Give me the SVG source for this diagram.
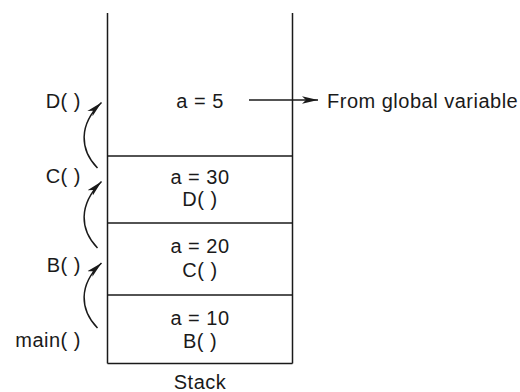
<svg xmlns="http://www.w3.org/2000/svg" width="520" height="392" viewBox="0 0 520 392">
<defs>
<style>
text{font-family:"Liberation Sans",Arial,sans-serif;font-size:20px;letter-spacing:0.5px;fill:#1a1a1a}
.m{text-anchor:middle}
.e{text-anchor:end}
.ln{stroke:#1a1a1a;stroke-width:1.5;fill:none}
</style>
<marker id="ah" markerUnits="userSpaceOnUse" markerWidth="18" markerHeight="10" refX="16" refY="5" orient="auto" viewBox="0 0 18 10">
<path d="M0,1.3 L16,5 L0,8.7 L4,5 z" fill="#1a1a1a"/>
</marker>
</defs>
<rect width="520" height="392" fill="#fff"/>
<g id="stack">
<path class="ln" d="M107.5,13 V363.5 M292.5,13 V363.5 M107.5,363.5 H292.5"/>
<text class="m" x="200" y="389">Stack</text>
</g>
<g id="frame-D">
<text class="m" x="200" y="107.5">a = 5</text>
</g>
<g id="frame-C">
<path class="ln" d="M107.5,156 H292.5"/>
<text class="m" x="200" y="184">a = 30</text>
<text class="m" x="200" y="206">D( )</text>
</g>
<g id="frame-B">
<path class="ln" d="M107.5,223 H292.5"/>
<text class="m" x="200" y="253">a = 20</text>
<text class="m" x="200" y="277">C( )</text>
</g>
<g id="frame-main">
<path class="ln" d="M107.5,295 H292.5"/>
<text class="m" x="200" y="325">a = 10</text>
<text class="m" x="200" y="348">B( )</text>
</g>
<g id="labels">
<text class="e" x="81" y="108">D( )</text>
<text class="e" x="81" y="183">C( )</text>
<text class="e" x="81" y="272">B( )</text>
<text class="e" x="81" y="347">main( )</text>
<text x="327" y="108">From global variable</text>
</g>
<g id="connectors">
<path class="ln" d="M97.5,168 C80,150 78,125 101.5,102.5" marker-end="url(#ah)"/>
<path class="ln" d="M97.5,248 C80,230 78,205 101.5,181.5" marker-end="url(#ah)"/>
<path class="ln" d="M97.5,328 C80,310 78,285 101.5,263" marker-end="url(#ah)"/>
<path class="ln" d="M249,100 H318" marker-end="url(#ah)"/>
</g>
</svg>
